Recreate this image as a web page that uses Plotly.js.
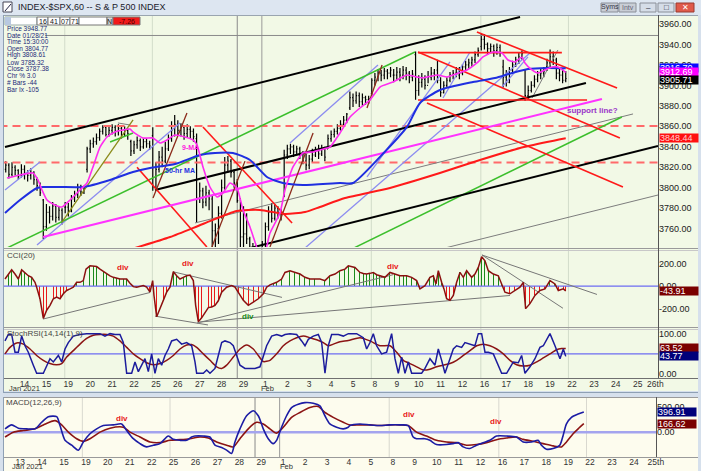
<!DOCTYPE html>
<html><head><meta charset="utf-8">
<script src="https://cdn.plot.ly/plotly-3.0.1.min.js"></script>
<style>html,body{margin:0;padding:0;background:#d6e0ec;}#chart{width:701px;height:471px;}</style>
</head><body><div id="chart"></div>
<script>
const W = 701, H = 471;
const PX = x => x / W, PY = y => 1 - y / H;

// ---------------- DATA ----------------
const topDayLabels = ['13','14','15','19','20','21','22','25','26','27','28','29','1','2','3','4','5','8','9','10','11','12','16','17','18','19','22','23','24','25','26th'];
const macdDayLabels = ['13','14','15','19','20','21','22','25','26','27','28','29','1','2','3','4','5','8','9','10','11','12','16','17','18','19','22','23','24','25th'];

// hourly bars, 7 per trading day (Jan 13 .. Feb 19)
const dayOpen = [3808,3812,3788,3781,3818,3852,3845,3851,3860,3848,3760,3778,3731,3791,3826,3838,3878,3892,3910,3930,3915,3910,3938,3918,3915,3918];
const barHigh = [
3815,3822,3826,3824,3825,3822,3818, 3823,3822,3817,3819,3816,3810,3805,
3789,3784,3782,3786,3784,3782,3780, 3786,3785,3793,3797,3804,3803,3802,
3840,3847,3849,3853,3858,3861,3860, 3860,3862,3861,3862,3860,3860,3858,
3847,3846,3850,3848,3848,3848,3846, 3859,3825,3836,3840,3845,3852,3865,
3871,3866,3863,3861,3862,3860,3858, 3853,3805,3800,3802,3798,3792,3765,
3782,3808,3830,3831,3828,3818,3808.61, 3790,3782,3775,3752,3746,3744,3742,
3748,3766,3782,3785,3784,3782,3779, 3837,3842,3843,3842,3841,3840,3836,
3833,3832,3838,3840,3842,3842,3840, 3852,3856,3858,3862,3866,3870,3873,
3894,3892,3894,3893,3892,3890,3890, 3907,3912,3916,3915,3917,3916,3918,
3916,3918,3917,3919,3918,3914,3915, 3933,3910,3912,3910,3914,3918,3916,
3925,3908,3904,3908,3913,3915,3918, 3918,3921,3924,3926,3928,3933,3937,
3951,3950,3942,3941,3940,3941,3940, 3925,3915,3918,3924,3928,3932,3934,
3915,3900,3904,3910,3914,3916,3918, 3926,3935,3933,3927,3918,3916,3914];
const barLow = [
3805,3810,3815,3809,3811,3812,3808, 3810,3808,3806,3808,3803,3797,3792,
3750,3758,3765,3768,3766,3768,3764, 3775,3772,3776,3786,3790,3792,3794,
3815,3834,3839,3842,3846,3852,3850, 3850,3852,3850,3851,3848,3850,3847,
3831,3833,3838,3836,3838,3839,3837, 3797,3799,3815,3820,3824,3836,3845,
3850,3851,3850,3847,3849,3848,3845, 3766,3785,3780,3782,3778,3742,3732,
3745,3770,3798,3815,3810,3800,3785.32, 3740,3738,3745,3720,3715,3705,3694,
3725,3740,3758,3766,3768,3770,3768, 3791,3828,3833,3830,3832,3828,3823,
3817,3818,3825,3830,3828,3831,3826, 3838,3845,3849,3852,3856,3860,3863,
3876,3879,3882,3879,3880,3881,3882, 3890,3900,3904,3904,3906,3906,3908,
3903,3905,3904,3906,3905,3902,3904, 3886,3890,3898,3896,3902,3905,3905,
3902,3889,3892,3898,3903,3906,3908, 3906,3910,3914,3916,3918,3922,3928,
3934,3935,3930,3932,3928,3930,3928, 3898,3899,3902,3912,3918,3921,3925,
3885,3886,3893,3898,3903,3906,3908, 3914,3918,3920,3906,3904,3902,3903];
const barClose = [
3812,3818,3822,3813,3820,3817,3811, 3818,3814,3812,3815,3808,3802,3795,
3762,3776,3772,3782,3771,3778,3768, 3781,3777,3789,3793,3800,3796,3799,
3838,3843,3845,3849,3855,3859,3852, 3856,3859,3855,3858,3852,3856,3853,
3836,3842,3846,3840,3845,3843,3841, 3800,3818,3830,3826,3838,3848,3856,
3862,3856,3859,3853,3857,3855,3850, 3790,3797,3786,3795,3789,3758,3750,
3775,3800,3822,3826,3815,3804.77,3787.38, 3752,3755,3750,3730,3725,3720,3714,
3745,3762,3776,3770,3780,3776,3774, 3832,3838,3840,3835,3838,3833,3826,
3822,3828,3832,3836,3833,3838,3830, 3848,3852,3855,3858,3862,3866,3872,
3888,3885,3890,3884,3888,3886,3887, 3905,3908,3912,3910,3914,3912,3915,
3910,3913,3910,3915,3912,3908,3911, 3895,3903,3906,3900,3908,3912,3910,
3905,3893,3900,3905,3910,3912,3916, 3912,3918,3920,3922,3925,3930,3934,
3945,3940,3936,3938,3934,3937,3932, 3908,3903,3915,3920,3925,3928,3931,
3890,3895,3900,3906,3910,3912,3914, 3922,3928,3925,3912,3910,3905,3906.71];

// moving averages: [day, price]
const ma9 = [[0.342,3809.5],[0.936,3812.5],[1.53,3814.4],[1.758,3807.6],[1.941,3797.8],[2.169,3788],[2.534,3783.2],[2.854,3781.2],[3.219,3788],[3.676,3797.8],[3.995,3804.6],[4.269,3820.3],[4.589,3839.8],[4.909,3849.6],[5.274,3854.5],[5.639,3856.4],[5.959,3857.4],[6.096,3854.5],[6.553,3848.6],[7.009,3848.6],[7.329,3843.7],[7.648,3846.7],[8.014,3851.5],[8.47,3849.6],[8.836,3846.7],[9.018,3841.8],[9.292,3820.3],[9.612,3800.7],[9.932,3791],[10.205,3794.9],[10.525,3804.6],[10.845,3799.8],[11.119,3778.3],[11.438,3761.7],[11.7,3745],[11.9,3733],[12.1,3735],[12.352,3755.8],[12.808,3775.3],[13.037,3797.8],[13.402,3820.3],[13.858,3834],[14.315,3835],[14.635,3836.9],[15.091,3839.8],[15.548,3853.5],[16.005,3869.1],[16.461,3877.9],[16.918,3885.7],[17.374,3898.4],[17.968,3903.3],[18.607,3910.2],[19.064,3908.2],[19.338,3907.2],[19.977,3910.2],[20.434,3908.2],[20.708,3910.2],[21.347,3915.1],[21.804,3921.9],[22.078,3927.8],[22.534,3932.6],[22.945,3931.7],[23.219,3924.8],[23.539,3922.9],[23.858,3927.8],[23.995,3921.9],[24.315,3915.1],[24.589,3912.1],[24.909,3915.1],[25.228,3918],[25.502,3918],[25.857,3912.69]];
const ma50 = [[0.251,3775.3],[0.936,3788],[1.712,3799.8],[1.986,3800.7],[2.763,3800.7],[3.813,3800.7],[5.046,3807.6],[6.096,3815.4],[6.872,3819.3],[8.014,3823.2],[9.155,3832],[9.84,3834],[10.662,3834],[11.438,3827.1],[12.215,3810.5],[12.945,3804.6],[13.858,3802.7],[15.548,3804.6],[16.142,3804.6],[17.374,3830.1],[18.607,3859.4],[19.201,3882.8],[20.114,3895.5],[21.621,3903.3],[22.626,3907.2],[23.402,3912.1],[24.132,3916],[25.0,3917],[25.857,3916.7]];
const ma200 = [[5.7,3738],[7.79,3751.9],[9.29,3764.6],[10.84,3777.3],[11.89,3778.3],[13.04,3774.4],[13.95,3776.3],[14.63,3781.2],[15.78,3790],[17.83,3799.8],[20.11,3814.4],[21.94,3827.1],[23.77,3838.8],[25.0,3844.7],[25.857,3848.44]];

// drawn trendlines: [day0, price0, day1, price1]
const blackLines = [[0.251,3839.8,23.77,3966.8],[7.10,3797.8,26.78,3902.4],[11.44,3741.1,30.07,3840.8]];
const grayLines = [[8.93,3765.6,28.93,3872.1],[20.34,3741.1,30.07,3792.9],[24.32,3887.7,25.5,3934.6],[5.41,3863.3,5.96,3861.3]];
const greenLines = [[0.342,3741.1,18.97,3932.6],[16.0,3739.2,28.42,3869.1],[5.05,3844.7,6.10,3853.5]];
const lavenderLines = [[0.251,3797.8,1.849,3825.2],[1.712,3744.1,8.242,3863.3],[13.265,3843.7,17.283,3919.9],[13.95,3741.1,24.224,3931.7],[16.781,3810.5,20.571,3922.9],[20.251,3887.7,21.484,3932.6],[22.945,3898.4,24.132,3927.8]];
const redLines = [[6.28,3820,9.47,3742.1],[9.29,3859.4,13.36,3765.6],[19.11,3932,25.68,3932],[19.11,3885.7,26.83,3885.7],[21.80,3952.2,28.20,3897.5],[19.11,3932.6,28.33,3848.6],[19.52,3882.8,28.47,3800.7]];
const magentaLines = [[1.99,3751.9,27.51,3886.7]];
const oliveLines = [[2.85,3766.5,6.10,3866.2]];
const brownLines = [[7.01,3790,8.56,3873],[9.70,3742.1,11.21,3826],[12.35,3742.1,14.32,3853.5],[16.78,3878,17.47,3920]];
const dashedLevels = [3860.3, 3824.7];
const crossPrice = 3948.77, crossDay = 10 + 6/7, monthDay = 12;
const weekStartDays = [3, 7, 17, 22, 26];

// CCI(20): [day, value]
const cci = [[0.251,62],[0.403,106],[0.556,143],[0.708,106],[0.86,62],[1.012,143],[1.164,120],[1.316,91],[1.469,77],[1.621,33],[1.697,-10],[1.849,-112],[2.001,-286],[2.154,-213],[2.306,-170],[2.458,-112],[2.61,-97],[2.763,-112],[2.915,-68],[3.067,-39],[3.219,-25],[3.371,-10],[3.524,33],[3.676,33],[3.828,48],[3.95,149],[4.132,178],[4.285,175],[4.437,172],[4.589,149],[4.741,128],[4.893,106],[5.046,90],[5.198,77],[5.35,70],[5.502,62],[5.654,62],[5.807,62],[5.959,25],[6.111,-5],[6.263,-10],[6.416,0],[6.568,4],[6.72,-10],[6.872,-54],[6.994,48],[7.055,-83],[7.177,-271],[7.329,-199],[7.481,-126],[7.633,-54],[7.785,-10],[7.937,126],[8.09,91],[8.242,62],[8.394,77],[8.546,91],[8.699,97],[8.851,48],[8.957,-170],[9.079,-314],[9.231,-280],[9.384,-230],[9.536,-190],[9.688,-184],[9.84,-170],[9.992,-130],[10.145,-54],[10.373,-10],[10.601,4],[10.753,-10],[10.906,-54],[11.134,-126],[11.362,-170],[11.59,-141],[11.819,-112],[12.047,-68],[12.199,-10],[12.352,10],[12.504,20],[12.656,33],[12.884,62],[13.037,120],[13.265,135],[13.493,120],[13.721,106],[13.95,77],[14.178,62],[14.406,62],[14.635,62],[14.863,48],[15.091,91],[15.32,106],[15.548,135],[15.776,149],[15.928,178],[16.233,164],[16.461,120],[16.613,110],[16.766,106],[16.918,112],[17.07,120],[17.222,100],[17.374,91],[17.603,77],[17.831,120],[18.059,106],[18.288,91],[18.44,91],[18.592,91],[18.82,77],[19.049,48],[19.201,-25],[19.429,4],[19.658,77],[19.81,91],[19.932,19],[20.038,135],[20.19,33],[20.297,-25],[20.419,-112],[20.571,-126],[20.723,-83],[20.875,33],[21.027,120],[21.18,77],[21.332,135],[21.56,77],[21.712,106],[21.865,164],[22.017,259],[22.169,222],[22.321,135],[22.55,106],[22.778,91],[22.93,19],[23.082,-54],[23.311,-68],[23.539,-39],[23.767,-10],[23.919,33],[24.026,-199],[24.224,-155],[24.452,-83],[24.68,-39],[24.909,-25],[25.137,48],[25.365,19],[25.518,-39],[25.746,-25],[25.857,-43.91]];
const cciLines = [[1.986,-291,6.872,-57],[7.922,126,12.9,-100],[7.1,-265,9.521,-343],[9.018,-326,17.97,100],[9.155,-317,23.311,-83],[22.032,274,27.283,-74],[22.032,274,25.731,-196]];

// StochRSI(14,14(1),9)
const stochFast = [[0.251,82],[0.403,98],[0.556,98],[0.708,54],[0.86,54],[1.012,94],[1.164,70],[1.316,54],[1.545,22],[1.697,2],[2.001,2],[2.154,22],[2.306,38],[2.458,30],[2.687,46],[2.839,30],[2.991,62],[3.143,78],[3.371,94],[3.676,98],[3.98,100],[4.589,100],[4.817,94],[5.046,100],[5.274,98],[5.502,98],[5.654,78],[5.807,2],[6.035,2],[6.187,30],[6.34,6],[6.492,22],[6.644,38],[6.796,6],[6.948,50],[7.1,2],[7.253,38],[7.405,22],[7.557,46],[7.709,62],[7.861,82],[8.09,86],[8.318,74],[8.546,78],[8.775,70],[8.927,30],[9.003,2],[9.307,2],[9.46,10],[9.612,2],[9.84,14],[9.992,46],[10.145,78],[10.297,82],[10.525,78],[10.677,70],[10.829,46],[10.982,22],[11.21,14],[11.667,14],[11.895,18],[12.047,46],[12.199,70],[12.428,94],[12.656,98],[12.884,94],[13.037,98],[13.265,100],[13.569,98],[13.797,82],[13.95,70],[14.102,86],[14.33,94],[14.559,98],[14.711,78],[14.863,2],[15.015,70],[15.167,98],[15.472,98],[15.7,94],[15.928,100],[16.309,100],[16.613,90],[16.766,62],[16.918,78],[17.07,100],[17.222,70],[17.45,50],[17.679,54],[17.907,100],[18.059,38],[18.212,2],[18.364,42],[18.516,2],[18.668,30],[18.82,2],[19.277,2],[19.429,14],[19.658,38],[19.886,22],[20.038,62],[20.19,34],[20.342,2],[20.571,38],[20.723,62],[20.875,70],[21.104,66],[21.256,78],[21.484,74],[21.712,70],[21.865,100],[22.017,100],[22.169,54],[22.321,54],[22.55,50],[22.702,30],[22.93,2],[23.158,2],[23.311,18],[23.463,30],[23.691,28],[23.843,46],[23.995,2],[24.224,18],[24.452,38],[24.68,66],[24.833,70],[24.985,86],[25.137,100],[25.365,70],[25.594,38],[25.746,62],[25.857,43.77]];
const stochSlow = [[0.251,50],[0.479,66],[0.784,77],[1.088,74],[1.393,62],[1.697,46],[2.001,34],[2.306,26],[2.61,23],[2.839,26],[3.067,42],[3.371,58],[3.676,74],[3.98,88],[4.285,96],[4.589,98],[4.893,98],[5.198,94],[5.502,82],[5.807,66],[6.111,50],[6.416,38],[6.72,28],[7.025,23],[7.329,26],[7.633,34],[7.937,46],[8.242,62],[8.546,72],[8.775,73],[9.003,66],[9.307,50],[9.612,34],[9.916,18],[10.145,14],[10.373,22],[10.677,42],[10.982,62],[11.286,72],[11.59,62],[11.819,46],[12.047,31],[12.352,34],[12.656,50],[12.961,70],[13.265,82],[13.569,90],[13.874,94],[14.178,90],[14.483,85],[14.787,78],[15.015,70],[15.244,74],[15.548,80],[15.928,83],[16.461,90],[16.918,82],[17.374,70],[17.831,70],[18.136,54],[18.44,34],[18.744,26],[19.049,18],[19.353,10],[19.658,12],[19.962,18],[20.266,22],[20.571,26],[20.875,34],[21.18,46],[21.484,58],[21.788,70],[22.093,74],[22.397,70],[22.702,62],[23.006,50],[23.311,34],[23.615,23],[23.919,20],[24.224,22],[24.528,30],[24.833,40],[25.137,50],[25.441,60],[25.67,63],[25.857,63.52]];

// MACD(12,26,9)
const macdLine = [[-0.547,65],[-0.243,143],[0.061,78],[0.441,65],[0.821,65],[1.125,195],[1.429,305],[1.809,305],[1.961,130],[2.189,-162],[2.493,-259],[2.797,-357],[3.025,-195],[3.329,-32],[3.633,65],[3.937,130],[4.393,143],[4.773,162],[5.001,32],[5.305,-130],[5.609,-227],[5.913,-292],[6.217,-259],[6.521,-227],[6.901,-78],[7.129,-143],[7.433,-162],[7.737,-162],[7.965,-97],[8.117,-78],[8.497,-78],[8.801,-97],[9.029,-259],[9.333,-305],[9.561,-357],[9.789,-422],[9.941,-195],[10.169,65],[10.473,324],[10.777,422],[11.005,324],[11.233,65],[11.461,-130],[11.689,-227],[11.841,-162],[12.069,97],[12.297,324],[12.525,486],[12.829,551],[13.133,584],[13.513,571],[13.817,519],[14.045,324],[14.273,162],[14.577,97],[14.881,65],[15.109,97],[15.185,130],[15.641,162],[16.097,143],[16.553,130],[17.009,143],[17.465,143],[17.845,130],[18.073,-97],[18.225,-130],[18.605,-130],[18.833,-162],[19.137,-246],[19.593,-246],[19.897,-227],[20.125,-208],[20.353,-292],[20.657,-324],[20.961,-259],[21.265,-208],[21.569,-162],[21.873,-78],[22.329,-78],[22.785,-97],[23.089,-195],[23.469,-195],[23.772,-162],[23.924,-259],[24.152,-337],[24.456,-324],[24.76,-259],[24.913,-65],[25.065,162],[25.293,292],[25.597,357],[25.857,396.91]];
const macdSignal = [[-0.547,-97],[-0.167,0],[0.289,32],[0.821,65],[1.201,143],[1.733,227],[2.037,143],[2.341,0],[2.721,-130],[3.025,-182],[3.329,-130],[3.785,0],[4.241,78],[4.849,97],[5.153,0],[5.609,-97],[6.065,-195],[6.521,-208],[6.977,-162],[7.433,-149],[7.889,-130],[8.345,-97],[8.725,-117],[9.105,-195],[9.561,-259],[9.865,-292],[10.169,-130],[10.549,65],[10.929,195],[11.233,162],[11.537,65],[11.841,-19],[12.145,97],[12.525,292],[12.905,389],[13.361,486],[13.741,506],[14.045,389],[14.425,292],[14.881,195],[15.185,140],[15.641,143],[16.097,143],[16.553,130],[17.009,143],[17.465,143],[17.845,130],[18.225,0],[18.681,-78],[19.137,-162],[19.593,-195],[20.049,-208],[20.505,-259],[20.961,-246],[21.417,-208],[21.873,-149],[22.329,-117],[22.785,-97],[23.089,-143],[23.544,-182],[24.0,-227],[24.456,-272],[24.837,-292],[25.065,-195],[25.369,-32],[25.597,65],[25.857,166.62]];

// ---------------- BUILD ----------------
const barX = [], barOpen = [];
for (let i = 0; i < barClose.length; i++) {
  const d = Math.floor(i / 7), k = i % 7;
  barX.push(d + k / 7);
  barOpen.push(k === 0 ? dayOpen[d] : barClose[i - 1]);
}
const col = (arr, j) => arr.map(p => p[j]);
const traces = [];
function segs(list, color, width, xa, ya, dash) {
  list.forEach(s => traces.push({type:'scatter', mode:'lines', x:[s[0], s[2]], y:[s[1], s[3]],
    xaxis:xa||'x', yaxis:ya||'y', line:{color, width, dash:dash||'solid'}, hoverinfo:'skip', showlegend:false}));
}
// price pane
dashedLevels.forEach(v => traces.push({type:'scatter', mode:'lines', x:[0, 31], y:[v, v], xaxis:'x', yaxis:'y',
  line:{color:'#ff6a6a', width:2, dash:'8px,5px'}, hoverinfo:'skip', showlegend:false}));
traces.push({type:'scatter', mode:'lines', x:[2.08, 31], y:[crossPrice, crossPrice], xaxis:'x', yaxis:'y',
  line:{color:'#8a8a8a', width:1}, hoverinfo:'skip', showlegend:false});
segs(grayLines, '#7d7d7d', 1);
segs(lavenderLines, '#8c8cf0', 1.3);
segs(greenLines, '#3cbf2c', 1.5);
segs(blackLines, '#000000', 2);
segs(redLines, '#ff1a1a', 1.6);
segs(magentaLines, '#ff33ff', 2);
segs(oliveLines, '#8b8b1a', 1.3);
segs(brownLines, '#8b2a1a', 1.3);
traces.push({type:'scatter', mode:'lines', x:col(ma200,0), y:col(ma200,1), xaxis:'x', yaxis:'y',
  line:{color:'#ff1a1a', width:2, shape:'spline', smoothing:0.6}, hoverinfo:'skip', showlegend:false});
traces.push({type:'ohlc', x:barX, open:barOpen, high:barHigh, low:barLow, close:barClose, xaxis:'x', yaxis:'y',
  increasing:{line:{color:'#000', width:1.2}}, decreasing:{line:{color:'#000', width:1.2}}, tickwidth:0.3,
  hoverinfo:'skip', showlegend:false});
traces.push({type:'scatter', mode:'lines', x:col(ma50,0), y:col(ma50,1), xaxis:'x', yaxis:'y',
  line:{color:'#1f2fe0', width:2, shape:'spline', smoothing:0.6}, hoverinfo:'skip', showlegend:false});
traces.push({type:'scatter', mode:'lines', x:col(ma9,0), y:col(ma9,1), xaxis:'x', yaxis:'y',
  line:{color:'#ff2cf0', width:1.6, shape:'spline', smoothing:0.5}, hoverinfo:'skip', showlegend:false});
// CCI pane
traces.push({type:'scatter', mode:'lines', x:[0, 31], y:[0, 0], xaxis:'x', yaxis:'y2',
  line:{color:'#6c6cf2', width:1.2}, hoverinfo:'skip', showlegend:false});
traces.push({type:'bar', x:col(cci,0), y:col(cci,1), xaxis:'x', yaxis:'y2', width:0.045,
  marker:{color:cci.map(p => p[1] >= 0 ? '#1a8a1a' : '#e81a1a'), line:{width:0}}, hoverinfo:'skip', showlegend:false});
segs(cciLines, '#777777', 1, 'x', 'y2');
traces.push({type:'scatter', mode:'lines', x:col(cci,0), y:col(cci,1), xaxis:'x', yaxis:'y2',
  line:{color:'#8b1010', width:1.5}, hoverinfo:'skip', showlegend:false});
// Stoch pane
traces.push({type:'scatter', mode:'lines', x:[0, 31], y:[50, 50], xaxis:'x', yaxis:'y3',
  line:{color:'#6c6cf2', width:1.2}, hoverinfo:'skip', showlegend:false});
traces.push({type:'scatter', mode:'lines', x:col(stochSlow,0), y:col(stochSlow,1), xaxis:'x', yaxis:'y3',
  line:{color:'#8b1414', width:1.5, shape:'spline', smoothing:0.6}, hoverinfo:'skip', showlegend:false});
traces.push({type:'scatter', mode:'lines', x:col(stochFast,0), y:col(stochFast,1), xaxis:'x', yaxis:'y3',
  line:{color:'#1c1c9c', width:1.5}, hoverinfo:'skip', showlegend:false});
// MACD pane
traces.push({type:'scatter', mode:'lines', x:[-2, 31], y:[0, 0], xaxis:'x2', yaxis:'y4',
  line:{color:'#a4a4ee', width:2.5}, hoverinfo:'skip', showlegend:false});
traces.push({type:'scatter', mode:'lines', x:col(macdSignal,0), y:col(macdSignal,1), xaxis:'x2', yaxis:'y4',
  line:{color:'#8b1414', width:1.6, shape:'spline', smoothing:0.7}, hoverinfo:'skip', showlegend:false});
traces.push({type:'scatter', mode:'lines', x:col(macdLine,0), y:col(macdLine,1), xaxis:'x2', yaxis:'y4',
  line:{color:'#1c1ca4', width:1.6, shape:'spline', smoothing:0.7}, hoverinfo:'skip', showlegend:false});

// ---------------- LAYOUT ----------------
const F = 'Arial, "Liberation Sans", sans-serif';
const topTickVals = topDayLabels.map((_, i) => i === topDayLabels.length - 1 ? i - 0.05 : i + 1/7);
const macdTickVals = macdDayLabels.map((_, i) => i + 1/7);
const shapes = [];
const rect = (x0, y0, x1, y1, fill, lc, lw) => shapes.push({type:'rect', xref:'paper', yref:'paper', x0:PX(x0), x1:PX(x1), y0:PY(y1), y1:PY(y0),
  fillcolor:fill, line:{color:lc||fill, width:lw||0}, layer:'below'});
const hline = (x0, x1, y, c, w) => shapes.push({type:'line', xref:'paper', yref:'paper', x0:PX(x0), x1:PX(x1), y0:PY(y), y1:PY(y), line:{color:c, width:w}, layer:'above'});
const vline = (x, y0, y1, c, w) => shapes.push({type:'line', xref:'paper', yref:'paper', x0:PX(x), x1:PX(x), y0:PY(y0), y1:PY(y1), line:{color:c, width:w}, layer:'above'});
// window backgrounds
rect(0, 0, 701, 15, '#dde6f1');
rect(3, 15, 698, 391, '#f2f9e6');
rect(3, 397, 698, 471, '#fdfcee');
// pane borders
hline(3, 698, 15.5, '#9aa5b0', 1);
hline(3, 698, 248.5, '#9a9a9a', 1);
hline(3, 698, 250.5, '#c8c8c8', 1);
hline(3, 698, 327.5, '#9a9a9a', 1);
hline(3, 698, 329.5, '#c8c8c8', 1);
hline(3, 698, 378.5, '#707070', 1);
hline(3, 698, 392.5, '#8ea0b4', 1);
hline(3, 698, 397.5, '#9a9a9a', 1);
hline(3, 698, 457.5, '#9a9a9a', 1);
vline(658.5, 15, 378, '#555', 1);
vline(656.5, 397, 457, '#555', 1);
vline(3.5, 15, 392, '#8ea0b4', 1);
vline(3.5, 397, 471, '#8ea0b4', 1);
// time markers
weekStartDays.forEach(d => {
  shapes.push({type:'line', xref:'x', yref:'paper', x0:d - 0.02, x1:d - 0.02, y0:PY(378), y1:PY(16), line:{color:'rgba(150,165,150,0.35)', width:1}, layer:'below'});
  shapes.push({type:'line', xref:'x2', yref:'paper', x0:d - 0.02, x1:d - 0.02, y0:PY(457), y1:PY(398), line:{color:'rgba(150,150,150,0.35)', width:1}, layer:'below'});
});
[[monthDay - 0.02, '#9a9a9a'], [crossDay, '#8a8a8a']].forEach(([d, c]) => {
  shapes.push({type:'line', xref:'x', yref:'paper', x0:d, x1:d, y0:PY(378), y1:PY(16), line:{color:c, width:1}, layer:'below'});
  shapes.push({type:'line', xref:'x2', yref:'paper', x0:d, x1:d, y0:PY(457), y1:PY(398), line:{color:c, width:1}, layer:'below'});
});
// title bar elements
rect(3, 2, 12, 12, '#ffffff', '#445', 1);
shapes.push({type:'line', xref:'paper', yref:'paper', x0:PX(5), x1:PX(11), y0:PY(11), y1:PY(4), line:{color:'#224', width:1}});
rect(601, 3, 618, 12, '#c9ced6', '#8a8f98', 1);
rect(619, 3, 636, 12, '#c9ced6', '#8a8f98', 1);
rect(640, 3, 656, 12, '#d5dde8', '#8a8f98', 1);
rect(658, 3, 674, 12, '#d5dde8', '#8a8f98', 1);
rect(676, 3, 694, 12, '#e05a4a', '#9a3a30', 1);
// toolbar boxes
rect(5, 17, 37, 25, '#ffffff', '#9aa', 1);
rect(5, 17, 11, 25, '#b8c8e0');
[[37,48],[48,60],[60,70],[70,79],[79,107]].forEach(([a,b]) => rect(a, 17, b, 25, '#ffffff', '#777', 1));
rect(107, 17, 113, 25, '#d8d8d8', '#777', 1);
rect(113, 17, 140, 25, '#f21a1a', '#777', 1);

const ann = [];
const T = (x, y, text, size, color, xa, extra) => ann.push(Object.assign({xref:'paper', yref:'paper', x:PX(x), y:PY(y), text,
  showarrow:false, xanchor:xa||'left', yanchor:'middle', font:{family:F, size, color}}, extra||{}));
T(16, 7.5, 'INDEX-$SPX,60 -- S &amp; P 500 INDEX', 9, '#1a1a2a');
T(609.5, 7.5, 'Syms', 7, '#334', 'center');
T(627.5, 7.5, 'Intv', 7, '#667', 'center');
T(648, 8, '–', 8, '#223', 'center');
T(666, 7.5, '□', 8, '#223', 'center');
T(685, 7.5, '✕', 8, '#fff', 'center');
[['16',43],['41',54],['07',65],['71',74.5],['N',110],['-7.26',127]].forEach(([t,x], i) =>
  T(x, 21.3, t, 7, i === 5 ? '#400' : '#111', 'center'));
const infoLabels = ['Price','Date','Time','Open','High','Low','Close','Chr %','# Bars','Bar Ix'];
const infoValues = ['3948.77','01/28/21','15:30:00','3804.77','3808.61','3785.32','3787.38','3.0','-44','-105'];
infoLabels.forEach((l, i) => T(5, 28.5 + i * 6.75, l + ' ' + infoValues[i], 6.5, '#1c2a78'));
// pane titles
T(5, 255.5, 'CCI(20)', 8, '#444');
T(5, 333.5, 'StochRSI(14,14(1),9)', 8, '#444');
T(4, 402.5, 'MACD(12,26,9)', 8, '#444');
// month labels
T(7, 388.5, 'Jan 2021', 7.5, '#333');
T(267, 388.5, 'Feb', 7.5, '#333', 'center');
T(10, 466.8, 'Jan 2021', 7.5, '#333');
T(286, 466.8, 'Feb', 7.5, '#333', 'center');
// chart notes (data coords)
const D = (xr, yr, x, y, text, size, color) => ann.push({xref:xr, yref:yr, x, y, text, showarrow:false,
  xanchor:'center', yanchor:'middle', font:{family:F, size, color}});
D('x', 'y', 8.70, 3838.9, '<b>9-MA</b>', 7, '#ff20e0');
D('x', 'y', 8.24, 3816.4, '<b>50-hr MA</b>', 7, '#1f2fe0');
D('x', 'y', 27.10, 3875, '<b>support line?</b>', 8, '#9a35c8');
D('x', 'y2', 5.63, 163, '<b>div</b>', 8, '#e81a1a');
D('x', 'y2', 8.62, 202, '<b>div</b>', 8, '#e81a1a');
D('x', 'y2', 17.95, 172, '<b>div</b>', 8, '#e81a1a');
D('x', 'y2', 11.36, -265, '<b>div</b>', 8, '#1a8a1a');
D('x2', 'y4', 4.77, 261, '<b>div</b>', 8, '#e81a1a');
D('x2', 'y4', 17.89, 344, '<b>div</b>', 8, '#e81a1a');
D('x2', 'y4', 21.87, 214, '<b>div</b>', 8, '#e81a1a');
// last-value tags
const Tag = (yr, v, text, bg, fg, xpix) => ann.push({xref:'paper', yref:yr, x:PX(xpix||659), y:v, text, showarrow:false,
  xanchor:'left', yanchor:'middle', bgcolor:bg, width:38, height:8, align:'left', borderpad:0,
  font:{family:F, size:9, color:fg}});
Tag('y', 3916.70, '3916.70', '#0a0aff', '#fff');
Tag('y', 3912.69, '3912.69', '#ff00ff', '#fff');
Tag('y', 3905.71, '3905.71', '#000000', '#fff');
Tag('y', 3848.44, '3848.44', '#ff1010', '#ffd0d0');
Tag('y2', -43.91, '-43.91', '#7a0000', '#fff');
Tag('y3', 63.52, '63.52', '#7a0000', '#fff');
Tag('y3', 43.77, '43.77', '#00007a', '#fff');
Tag('y4', 396.91, '396.91', '#00007a', '#fff', 657);
Tag('y4', 166.62, '166.62', '#7a0000', '#fff', 657);

const yax = (dom, range, vals, txt, anchor) => ({domain:dom, range, side:'right', anchor, tickvals:vals, ticktext:txt,
  showgrid:false, zeroline:false, showline:false, ticks:'', tickfont:{family:F, size:9, color:'#222'}, fixedrange:true});
const priceTicks = [3760,3780,3800,3820,3840,3860,3880,3900,3920,3940,3960];
const layout = {
  width:W, height:H, margin:{l:0, r:0, t:0, b:0}, paper_bgcolor:'#d6e0ec', plot_bgcolor:'rgba(0,0,0,0)',
  showlegend:false, bargap:0, dragmode:false, hovermode:false,
  xaxis:{domain:[PX(3), PX(658)], range:[0.16, 30.07], anchor:'y3', tickvals:topTickVals, ticktext:topDayLabels,
    showgrid:false, zeroline:false, showline:false, ticks:'', tickfont:{family:F, size:8.5, color:'#333'}, fixedrange:true,
    ticklabelstandoff:-1, rangeslider:{visible:false}},
  xaxis2:{domain:[PX(3), PX(656)], range:[-0.64, 29.15], anchor:'y4', tickvals:macdTickVals, ticktext:macdDayLabels,
    showgrid:false, zeroline:false, showline:false, ticks:'', tickfont:{family:F, size:8.5, color:'#333'}, fixedrange:true,
    ticklabelstandoff:-2},
  yaxis:yax([PY(247), PY(16)], [3742.1, 3967.8], priceTicks, priceTicks.map(v => v.toFixed(2)), 'x'),
  yaxis2:yax([PY(327), PY(251)], [-361, 309], [-200, 0, 200], ['-200.00','0.00','200.00'], 'x'),
  yaxis3:yax([PY(378), PY(330)], [-9.7, 109], [0, 100], ['0.00','100.00'], 'x'),
  yaxis4:yax([PY(457), PY(398)], [-492, 675], [0, 500], ['0.00','500.00'], 'x2'),
  shapes, annotations:ann
};
Plotly.newPlot('chart', traces, layout, {staticPlot:true, displayModeBar:false});
</script></body></html>
